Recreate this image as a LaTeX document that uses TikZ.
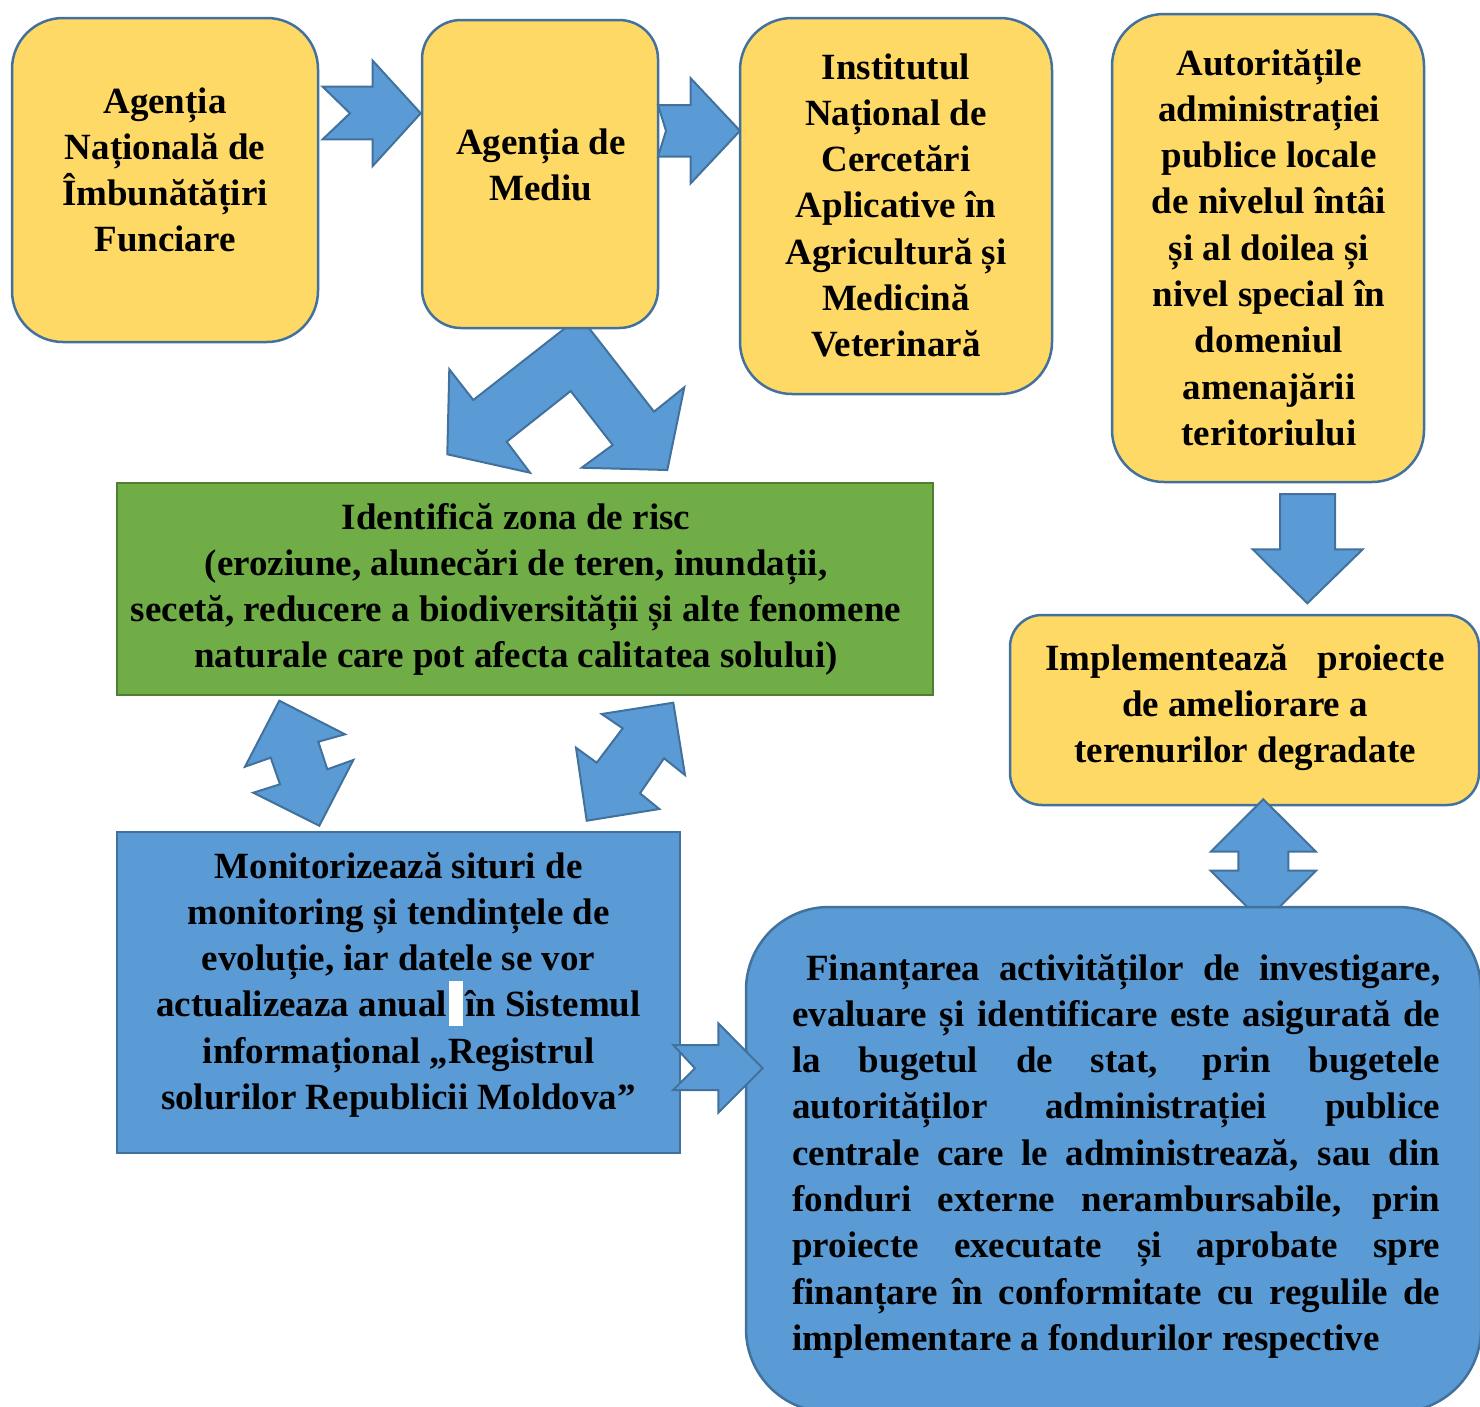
\documentclass[tikz,border=0pt]{standalone}
\usepackage{fontspec}
\setmainfont{Liberation Serif}
\definecolor{yfill}{HTML}{FFD966}
\definecolor{bfill}{HTML}{5B9BD5}
\definecolor{bline}{HTML}{41719C}
\definecolor{gfill}{HTML}{70AD47}
\definecolor{gline}{HTML}{507E32}
\begin{document}
\begin{tikzpicture}[x=1pt,y=-1pt,
  ybox/.style={draw=bline, fill=yfill, line width=2.5pt, inner sep=0pt},
  bbox/.style={draw=bline, fill=bfill, line width=2.5pt, inner sep=0pt},
  gbox/.style={draw=gline, fill=gfill, line width=2.5pt, inner sep=0pt},
  arr/.style={draw=bline, fill=bfill, line width=2pt, line join=miter},
  txt/.style={anchor=base, inner sep=0pt, font=\fontsize{37}{46.3}\selectfont\bfseries},
]
\useasboundingbox (0,0) rectangle (1480,1406);

% V-shaped double arrow below Agentia de Mediu (behind the box)
\draw[arr] (580,316.5) -- (473.3,400) -- (449.3,369.3) -- (447.3,454.3) -- (530,472.7)
  -- (506.7,441.7) -- (570.7,391) -- (612.7,445) -- (581.7,467.7) -- (667.3,470)
  -- (684.3,387.3) -- (654,411.7) -- cycle;

% top row boxes
\node[ybox, rounded corners=51pt, minimum width=306pt, minimum height=324pt] (b1) at (165,180) {};
\node[ybox, rounded corners=39pt, minimum width=236pt, minimum height=308pt] (b2) at (540,174) {};
\node[ybox, rounded corners=52pt, minimum width=312pt, minimum height=376pt] (b3) at (896,206) {};
\node[ybox, rounded corners=52pt, minimum width=312pt, minimum height=468pt] (b4) at (1268,248) {};

\node[txt] (t1) at (165,113) {\begin{tabular}[t]{@{}c@{}}Agenția\\Națională de\\Îmbunătățiri\\Funciare\end{tabular}};
\node[txt] (t2) at (541,154) {\begin{tabular}[t]{@{}c@{}}Agenția de\\Mediu\end{tabular}};
\node[txt] (t3) at (896,79) {\begin{tabular}[t]{@{}c@{}}Institutul\\Național de\\Cercetări\\Aplicative în\\Agricultură și\\Medicină\\Veterinară\end{tabular}};
\node[txt] (t4) at (1269,75) {\begin{tabular}[t]{@{}c@{}}Autoritățile\\administrației\\publice locale\\de nivelul întâi\\și al doilea și\\nivel special în\\domeniul\\amenajării\\teritoriului\end{tabular}};

% arrows between top boxes
\draw[arr] (322.7,86.7) -- (372.7,86.7) -- (372.7,60.7) -- (420.7,113.3) -- (372.7,166)
  -- (372.7,139.3) -- (322.7,139.3) -- (350,113.3) -- cycle;
\draw[arr] (658,105) -- (690.7,105) -- (690.7,78.3) -- (740,130.8) -- (690.7,183.3)
  -- (690.7,156.7) -- (658,156.7) -- (666,130.8) -- cycle;

% green box
\node[gbox, minimum width=816pt, minimum height=212pt] (g) at (525,589) {};
\node[txt] (tg) at (516,529) {\begin{tabular}[t]{@{}c@{}}Identifică zona de risc\\(eroziune, alunecări de teren, inundații,\\secetă, reducere a biodiversității și alte fenomene\\naturale care pot afecta calitatea solului)\end{tabular}};

% double arrows green <-> monitor
\draw[arr] (279.3,700.7) -- (345,734.3) -- (318.3,741.7) -- (327.3,769.3) -- (353.3,760)
  -- (319.3,825.7) -- (253.3,792.7) -- (280,784.3) -- (270.7,757.7) -- (245,766.7) -- cycle;
\draw[arr] (601.7,714) -- (673.3,702.7) -- (685,775) -- (664,758.3) -- (640,793.3)
  -- (659.3,809) -- (586.7,820.7) -- (576,747.7) -- (596.7,762.7) -- (622.7,728.3) -- cycle;

% down arrow from b4
\draw[arr] (1280,494) -- (1335,494) -- (1335,549.3) -- (1362.7,549.3) -- (1307.3,603.3)
  -- (1252.7,549.3) -- (1280,549.3) -- cycle;

% Implementeaza box
\node[ybox, rounded corners=32pt, minimum width=469pt, minimum height=190pt] (b5) at (1244.5,710) {};
\node[txt] (t5) at (1245,670) {\begin{tabular}[t]{@{}c@{}}\makebox[399pt][s]{Implementează proiecte}\\de ameliorare a\\terenurilor degradate\end{tabular}};

% up-down arrow
\draw[arr] (1263.3,799.3) -- (1316,851.7) -- (1288.3,851.7) -- (1288.3,870.7) -- (1316,870.7)
  -- (1263.3,923) -- (1210.7,870.7) -- (1238.3,870.7) -- (1238.3,851.7) -- (1210.7,851.7) -- cycle;

% monitor box
\node[bbox, minimum width=563pt, minimum height=321pt] (m) at (398.5,992.5) {};
\node[txt] (tm) at (398.5,878) {\begin{tabular}[t]{@{}c@{}}Monitorizează situri de\\monitoring și tendințele de\\evoluție, iar datele se vor\\actualizeaza anual\hspace{18pt}în Sistemul\\informațional „Registrul\\solurilor Republicii Moldova”\end{tabular}};
\node[fill=white, inner sep=0pt, minimum width=14pt, minimum height=44.7pt] (gap) at (456.3,1003.4) {};

% financing box
\node[bbox, rounded corners=83pt, minimum width=735pt, minimum height=505pt] (f) at (1113.5,1159.5) {};
\node[txt, anchor=base west] (tf) at (792,980) {\begin{tabular}[t]{@{}l@{}}%
\makebox[648pt][s]{\hspace*{14pt}Finanțarea activităților de investigare,}\\
\makebox[648pt][s]{evaluare și identificare este asigurată de}\\
\makebox[648pt][s]{la bugetul de stat, prin bugetele}\\
\makebox[648pt][s]{autorităților administrației publice}\\
\makebox[648pt][s]{centrale care le administrează, sau din}\\
\makebox[648pt][s]{fonduri externe nerambursabile, prin}\\
\makebox[648pt][s]{proiecte executate și aprobate spre}\\
\makebox[648pt][s]{finanțare în conformitate cu regulile de}\\
implementare a fondurilor respective\end{tabular}};

% arrow monitor -> financing
\draw[arr] (673.3,1045) -- (718.3,1045) -- (718.3,1023.3) -- (762.7,1068.3) -- (718.3,1112.7)
  -- (718.3,1090) -- (673.3,1090) -- (695,1068.3) -- cycle;
\end{tikzpicture}
\end{document}
